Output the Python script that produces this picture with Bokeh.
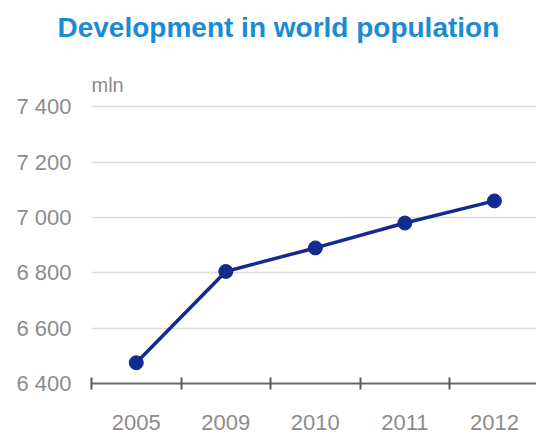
from bokeh.plotting import figure
from bokeh.models import Range1d, FixedTicker, Label, ColumnDataSource
from bokeh.embed import file_html
from bokeh.resources import INLINE

# ---- data ----
years = ["2005", "2009", "2010", "2011", "2012"]
population_mln = [6475, 6805, 6890, 6980, 7060]
y_ticks = [6400, 6600, 6800, 7000, 7200, 7400]
y_tick_labels = ["6 400", "6 600", "6 800", "7 000", "7 200", "7 400"]
title_text = "Development in world population"
unit_text = "mln"

FONT = "Liberation Sans"
LINE_COLOR = "#132b8c"
LABEL_COLOR = "#8c8c8c"

xs = [i + 0.5 for i in range(len(years))]
boundaries = list(range(len(years) + 1))
src = ColumnDataSource(dict(x=xs, y=population_mln, year=years))

p = figure(
    width=536, height=440,
    output_backend="svg", toolbar_location=None,
    x_range=Range1d(0, 4.97), y_range=Range1d(6400, 7600),
    min_border_left=91, min_border_right=0, min_border_bottom=57, min_border_top=51,
)
p.outline_line_color = None
p.background_fill_color = "white"
p.border_fill_color = "white"

# title
p.title.text = title_text
p.title.text_font = FONT
p.title.text_font_style = "bold"
p.title.text_font_size = "28px"
p.title.text_color = "#1b8bd3"
p.title.align = "left"
p.title.offset = -34
p.title.standoff = 17

# x axis: labels at category centres, tick marks on category boundaries
xa = p.xaxis[0]
xa.ticker = FixedTicker(ticks=xs, minor_ticks=boundaries)
xa.major_label_overrides = {x: y for x, y in zip(xs, years)}
xa.major_tick_in = 0
xa.major_tick_out = 0
xa.minor_tick_in = 6
xa.minor_tick_out = 6
xa.minor_tick_line_color = "#5a5a5a"
xa.minor_tick_line_width = 2
xa.axis_line_color = "#6a6a6a"
xa.axis_line_width = 2
xa.major_label_text_font = FONT
xa.major_label_text_font_size = "22px"
xa.major_label_text_color = LABEL_COLOR
xa.major_label_standoff = 25
p.xgrid.visible = False

# y axis
ya = p.yaxis[0]
ya.ticker = FixedTicker(ticks=y_ticks)
ya.major_label_overrides = {t: l for t, l in zip(y_ticks, y_tick_labels)}
ya.axis_line_color = None
ya.major_tick_line_color = None
ya.major_tick_out = 0
ya.major_tick_in = 0
ya.minor_tick_line_color = None
ya.major_label_text_font = FONT
ya.major_label_text_font_size = "22px"
ya.major_label_text_color = LABEL_COLOR
ya.major_label_standoff = 20
p.ygrid.ticker = FixedTicker(ticks=y_ticks)
p.ygrid.grid_line_color = "#dcdcdc"
p.ygrid.grid_line_width = 1.5

# unit label
p.add_layout(Label(x=0, y=7480, text=unit_text, text_font=FONT, text_font_size="20px",
                   text_color=LABEL_COLOR, text_baseline="middle"))

# series
p.line("x", "y", source=src, line_color=LINE_COLOR, line_width=3.5)
p.scatter("x", "y", source=src, size=14, fill_color=LINE_COLOR, line_color=LINE_COLOR)

open("out.html", "w").write(file_html(p, INLINE))
